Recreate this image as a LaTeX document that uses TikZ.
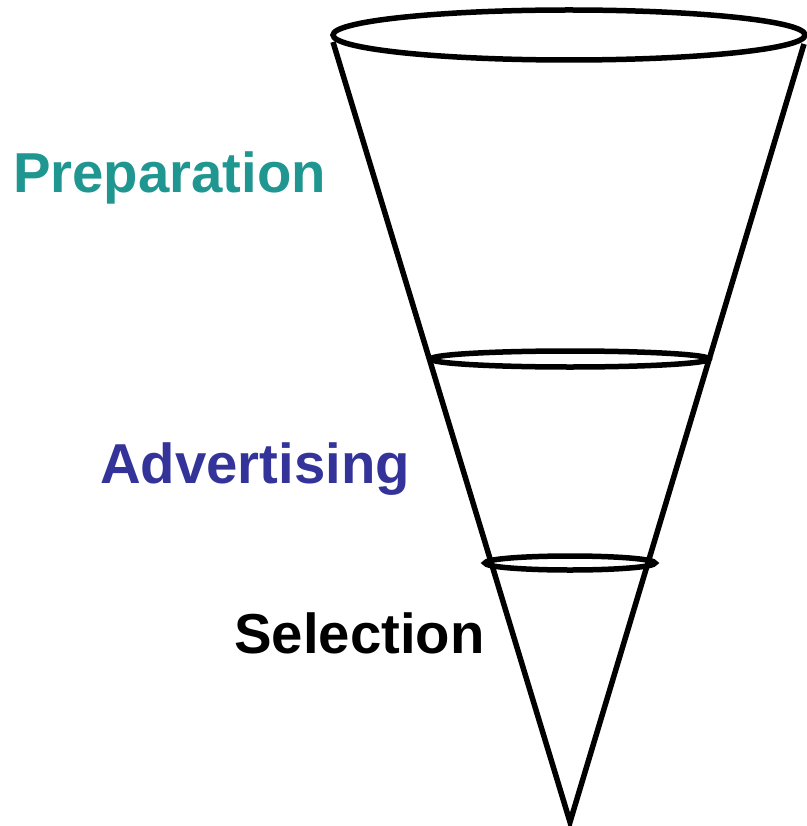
\documentclass[tikz,border=0pt]{standalone}
\usepackage{fontspec}
\setmainfont{Liberation Sans}
\definecolor{prepcol}{RGB}{32,150,145}
\definecolor{advcol}{RGB}{51,51,153}
\begin{document}
\begin{tikzpicture}[x=1pt,y=-1pt,
  funnel/.style={line width=5.5pt},
  stage/.style={anchor=base west,inner sep=0pt,font=\fontsize{56.3}{60}\selectfont\bfseries}]
\useasboundingbox (0,0) rectangle (806,826);
% cone outline
\coordinate (tip) at (570,822);
\coordinate (topL) at (333,42);
\coordinate (topR) at (804,44);
\draw[funnel] (topL) -- (tip) -- (topR);
% rims
\draw[funnel] (569,35) ellipse [x radius=236, y radius=25];
\draw[funnel] (570,359) ellipse [x radius=139, y radius=8];
\draw[funnel] (570,563) ellipse [x radius=85, y radius=7];
% stage labels
\node[stage,text=prepcol] (prep) at (13,193) {Preparation};
\node[stage,text=advcol] (adv) at (100,483) {Advertising};
\node[stage,text=black] (sel) at (234,653) {Selection};
\end{tikzpicture}
\end{document}
